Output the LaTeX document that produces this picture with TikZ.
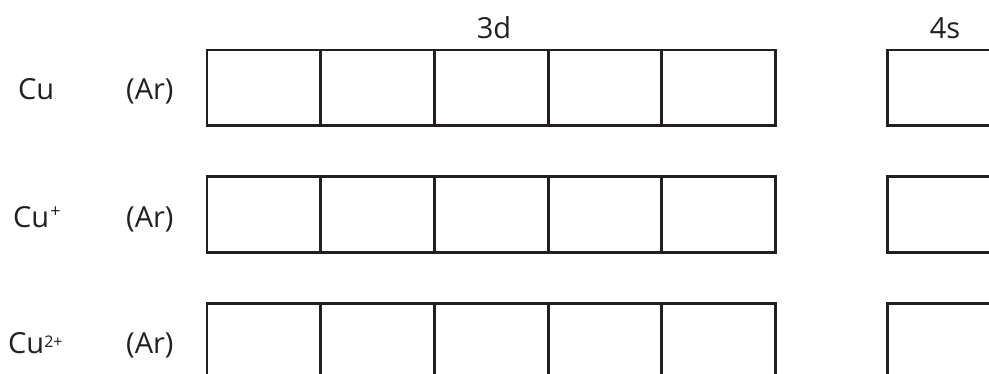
\documentclass[tikz,border=0pt]{standalone}
\usepackage{fontspec}
\setmainfont{Open Sans}
\definecolor{ink}{HTML}{231F20}
\begin{document}
\begin{tikzpicture}[x=1pt,y=-1pt,
  orb/.style={draw=ink,line width=2.8pt,minimum width=113.7pt,minimum height=75.6pt,inner sep=0pt,outer sep=0pt,rectangle},
  lbl/.style={text=ink,font=\fontsize{29}{34}\selectfont,inner sep=0pt,anchor=base west},
  hdr/.style={text=ink,font=\fontsize{29}{34}\selectfont,inner sep=0pt,anchor=base}]
\useasboundingbox (0,0) rectangle (989,374);
\clip (0,0) rectangle (989,374);
% headings
\node[hdr] (h3d) at (494,38.3) {3d};
\node[hdr] (h4s) at (945,38.3) {4s};
% row labels
\node[lbl] (cu0) at (18,100) {Cu};
\node[lbl] (ar0) at (126,100) {(Ar)};
\node[lbl] (cu1) at (13,228) {Cu\kern1pt\raisebox{10pt}{\fontsize{18}{20}\selectfont +}};
\node[lbl] (ar1) at (126,227.5) {(Ar)};
\node[lbl] (cu2) at (8,353.3) {Cu\raisebox{6pt}{\fontsize{16}{19}\selectfont 2+}};
\node[lbl] (ar2) at (126,353.3) {(Ar)};
% boxes
\foreach \r/\y in {0/87.85,1/214.35,2/341.2}{
  \foreach \i in {0,...,4}{
    \node[orb] (d\r\i) at ({207+113.7*\i+56.85},\y) {};
  }
  \node[orb] (s\r) at (944.5,\y) {};
}
\end{tikzpicture}
\end{document}
